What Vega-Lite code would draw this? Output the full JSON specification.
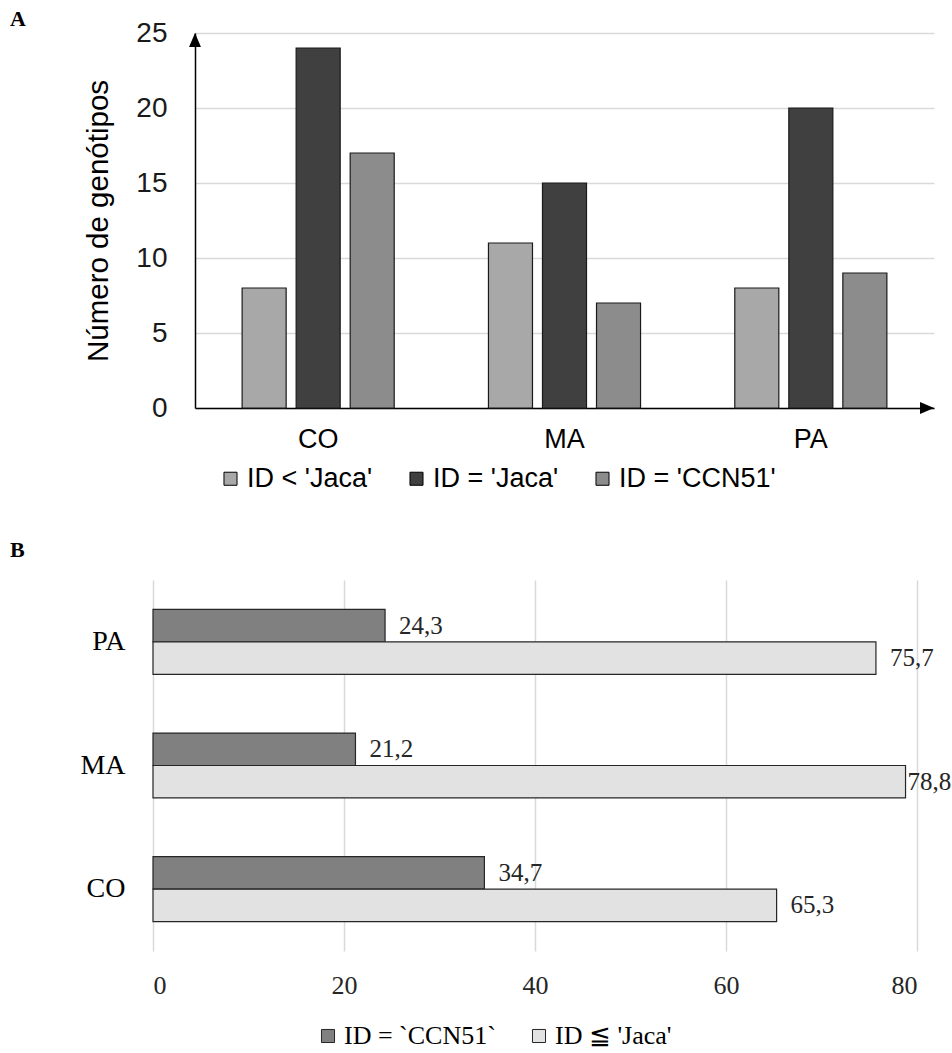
{
  "$schema": "https://vega.github.io/schema/vega-lite/v6.json",
  "background": "white",
  "padding": {"left": 10, "top": 8, "right": 0, "bottom": 0},
  "autosize": {"type": "pad"},
  "spacing": 47,
  "config": {
    "view": {"stroke": null},
    "locale": {"number": {"decimal": ",", "thousands": ".", "grouping": [3], "currency": ["", ""]}}
  },
  "vconcat": [
    {"spacing": 53, "hconcat": [
      {
        "width": 20, "height": 10,
        "title": {"text": "A", "anchor": "start", "frame": "group", "font": "Liberation Serif", "fontSize": 22, "fontWeight": "bold", "color": "black", "offset": 2},
        "data": {"values": []},
        "mark": {"type": "point", "opacity": 0}
      },
      {
        "width": 739,
        "height": 375,
        "layer": [
          {
            "data": {"values": [
              {"regiao": "CO", "grupo": "ID < 'Jaca'", "n": 8},
              {"regiao": "CO", "grupo": "ID = 'Jaca'", "n": 24},
              {"regiao": "CO", "grupo": "ID = 'CCN51'", "n": 17},
              {"regiao": "MA", "grupo": "ID < 'Jaca'", "n": 11},
              {"regiao": "MA", "grupo": "ID = 'Jaca'", "n": 15},
              {"regiao": "MA", "grupo": "ID = 'CCN51'", "n": 7},
              {"regiao": "PA", "grupo": "ID < 'Jaca'", "n": 8},
              {"regiao": "PA", "grupo": "ID = 'Jaca'", "n": 20},
              {"regiao": "PA", "grupo": "ID = 'CCN51'", "n": 9}
            ]},
            "mark": {"type": "bar", "stroke": "#1a1a1a", "strokeWidth": 1.2},
            "encoding": {
              "x": {"field": "regiao", "type": "nominal", "sort": ["CO", "MA", "PA"],
                "scale": {"paddingInner": 0.342, "paddingOuter": 0.171},
                "axis": {"title": null, "labelAngle": 0, "labelFont": "Liberation Sans", "labelFontSize": 27, "labelColor": "black", "ticks": false, "domainColor": "black", "domainWidth": 1.5, "labelPadding": 18}},
              "xOffset": {"field": "grupo", "type": "nominal", "sort": ["ID < 'Jaca'", "ID = 'Jaca'", "ID = 'CCN51'"],
                "scale": {"paddingInner": 0.185, "paddingOuter": 0.0925}},
              "y": {"field": "n", "type": "quantitative", "scale": {"domain": [0, 25], "padding": 0, "nice": false},
                "axis": {"title": "Número de genótipos", "titleFont": "Liberation Sans", "titleFontSize": 29.5, "titleFontWeight": "normal", "titleColor": "black", "titlePadding": 22,
                  "labelFont": "Liberation Sans", "labelFontSize": 28, "labelColor": "#1a1a1a", "labelPadding": 28, "ticks": false,
                  "domainColor": "black", "domainWidth": 1.5, "gridColor": "#d9d9d9", "gridWidth": 1.5, "values": [0, 5, 10, 15, 20, 25]}},
              "color": {"field": "grupo", "type": "nominal",
                "scale": {"domain": ["ID < 'Jaca'", "ID = 'Jaca'", "ID = 'CCN51'"], "range": ["#a8a8a8", "#404040", "#8c8c8c"]},
                "legend": {"orient": "none", "legendX": 22, "legendY": 432, "padding": 0, "direction": "horizontal", "title": null, "labelFont": "Liberation Sans", "labelFontSize": 27, "labelColor": "black",
                  "symbolType": "square", "symbolSize": 170, "symbolStrokeColor": "black", "symbolStrokeWidth": 1, "columnPadding": 30, "labelOffset": 3}}
            }
          },
          {
            "data": {"values": [
              {"ax": 0, "ay": 25, "dir": "up"},
              {"ax": 1, "ay": 0, "dir": "right"}
            ]},
            "mark": {"type": "point", "filled": true, "color": "black", "opacity": 1, "size": 196},
            "encoding": {
              "x": {"field": "ax", "type": "quantitative", "scale": {"domain": [0, 1], "nice": false, "zero": false, "padding": 0}, "axis": null},
              "y": {"field": "ay", "type": "quantitative"},
              "shape": {"field": "dir", "type": "nominal", "scale": {"domain": ["up", "right"], "range": ["M0,0L-0.85,2L0.85,2Z", "M0,0L-2,-0.85L-2,0.85Z"]}, "legend": null}
            }
          }
        ],
        "resolve": {"scale": {"x": "independent", "shape": "independent", "color": "independent"}}
      }
    ]},
    {"spacing": 49, "hconcat": [
      {
        "width": 20, "height": 10,
        "title": {"text": "B", "anchor": "start", "frame": "group", "font": "Liberation Serif", "fontSize": 22, "fontWeight": "bold", "color": "black", "offset": 18},
        "data": {"values": []},
        "mark": {"type": "point", "opacity": 0}
      },
      {
        "width": 764,
        "height": 371,
        "data": {"values": [
          {"regiao": "PA", "grupo": "ID = `CCN51`", "pct": 24.3},
          {"regiao": "PA", "grupo": "ID ≦ 'Jaca'", "pct": 75.7},
          {"regiao": "MA", "grupo": "ID = `CCN51`", "pct": 21.2},
          {"regiao": "MA", "grupo": "ID ≦ 'Jaca'", "pct": 78.8},
          {"regiao": "CO", "grupo": "ID = `CCN51`", "pct": 34.7},
          {"regiao": "CO", "grupo": "ID ≦ 'Jaca'", "pct": 65.3}
        ]},
        "encoding": {
          "y": {"field": "regiao", "type": "nominal", "sort": ["PA", "MA", "CO"],
            "scale": {"paddingInner": 0.475, "paddingOuter": 0.2375},
            "axis": {"title": null, "labelFont": "Liberation Serif", "labelFontSize": 28, "labelColor": "black", "ticks": false, "domain": false, "labelPadding": 28}},
          "yOffset": {"field": "grupo", "type": "nominal", "sort": ["ID = `CCN51`", "ID ≦ 'Jaca'"], "scale": {"paddingInner": 0, "paddingOuter": 0}},
          "x": {"field": "pct", "type": "quantitative", "scale": {"domain": [0, 80]},
            "axis": {"title": null, "values": [0, 20, 40, 60, 80], "format": "d", "labelFont": "Liberation Serif", "labelFontSize": 26, "labelColor": "#262626",
              "ticks": false, "domain": false, "gridColor": "#d9d9d9", "gridWidth": 1.5, "labelPadding": 21}}
        },
        "layer": [
          {
            "mark": {"type": "bar", "stroke": "#262626", "strokeWidth": 1.2},
            "encoding": {
              "color": {"field": "grupo", "type": "nominal",
                "scale": {"domain": ["ID = `CCN51`", "ID ≦ 'Jaca'"], "range": ["#808080", "#e2e2e2"]},
                "legend": {"orient": "none", "legendX": 305, "legendY": 990, "padding": 0, "direction": "horizontal", "title": null, "labelFont": "Liberation Serif", "labelFontSize": 26, "labelColor": "black",
                  "symbolType": "square", "symbolSize": 170, "symbolStrokeColor": "#262626", "symbolStrokeWidth": 1, "columnPadding": 30, "labelOffset": 3}}
            }
          },
          {
            "transform": [{"filter": "datum.pct < 78"}],
            "mark": {"type": "text", "align": "left", "baseline": "middle", "dx": 14, "font": "Liberation Serif", "fontSize": 25, "color": "#262626"},
            "encoding": {"text": {"field": "pct", "type": "quantitative", "format": ".1f"}}
          },
          {
            "transform": [{"filter": "datum.pct >= 78"}],
            "mark": {"type": "text", "align": "left", "baseline": "middle", "dx": 2, "font": "Liberation Serif", "fontSize": 25, "color": "#262626"},
            "encoding": {"text": {"field": "pct", "type": "quantitative", "format": ".1f"}}
          }
        ]
      }
    ]}
  ]
}
